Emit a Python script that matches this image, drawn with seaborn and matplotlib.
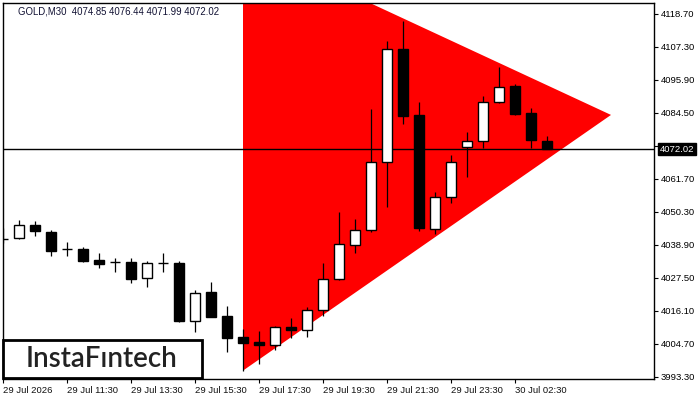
import matplotlib
matplotlib.use("Agg")
import matplotlib.pyplot as plt
import seaborn as sns
import numpy as np
import pandas as pd
from matplotlib.patches import Rectangle

# ---------------- data ----------------
opens = [4040.9, 4041.2, 4045.8, 4043.2, 4037.4, 4037.5, 4033.55, 4032.9, 4032.95, 4027.35,
         4032.6, 4032.6, 4012.7, 4022.6, 4014.3, 4007.0, 4005.2, 4004.4, 4010.4, 4009.4,
         4016.3, 4027.0, 4038.7, 4043.9, 4067.4, 4106.5, 4083.7, 4044.3, 4055.3, 4072.8,
         4074.7, 4088.2, 4093.8, 4084.4, 4074.85]
closes = [4041.0, 4045.8, 4043.5, 4036.9, 4037.3, 4033.4, 4032.2, 4032.8, 4027.2, 4032.5,
          4032.5, 4012.7, 4022.15, 4013.95, 4006.8, 4005.1, 4004.4, 4010.4, 4009.6, 4016.3,
          4027.0, 4039.1, 4043.9, 4067.4, 4106.5, 4083.5, 4044.6, 4055.3, 4067.4, 4074.7,
          4088.2, 4093.4, 4084.2, 4075.0, 4072.02]
highs = [4044.7, 4047.5, 4047.2, 4044.0, 4039.8, 4038.05, 4036.0, 4034.2, 4034.2, 4033.3,
         4036.0, 4033.3, 4023.3, 4026.2, 4017.75, 4009.8, 4009.1, 4010.9, 4013.6, 4017.3,
         4032.7, 4050.4, 4047.8, 4085.9, 4109.4, 4116.3, 4088.2, 4057.1, 4069.95, 4077.9,
         4090.4, 4100.4, 4094.5, 4086.3, 4076.44]
lows = [4039.5, 4040.8, 4042.1, 4035.1, 4035.1, 4033.1, 4031.0, 4029.6, 4025.6, 4024.4,
        4029.6, 4012.3, 4008.9, 4013.9, 4002.0, 3995.4, 3997.7, 4002.5, 4006.8, 4007.1,
        4014.3, 4026.8, 4036.0, 4043.4, 4051.9, 4080.6, 4043.8, 4042.5, 4053.5, 4062.5,
        4072.5, 4088.0, 4083.8, 4072.5, 4071.99]

# triangle pattern (bar index, price)
tri_x = [15, 38, 15]
tri_y = [4142.9, 4083.8, 3995.4]

current_price = 4072.02
y_ticks = [4118.70, 4107.30, 4095.90, 4084.50, 4073.10, 4061.70, 4050.30,
           4038.90, 4027.50, 4016.10, 4004.70, 3993.30]
x_tick_pos = [0, 4, 8, 12, 16, 20, 24, 28, 32]
x_tick_labels = ["29 Jul 2026", "29 Jul 11:30", "29 Jul 13:30", "29 Jul 15:30",
                 "29 Jul 17:30", "29 Jul 19:30", "29 Jul 21:30", "29 Jul 23:30",
                 "30 Jul 02:30"]
header = "GOLD,M30  4074.85 4076.44 4071.99 4072.02"

# ---------------- plot ----------------
sns.set_theme(style="white")
plt.rcParams["font.family"] = ["Liberation Sans", "DejaVu Sans"]

df = pd.DataFrame({"o": opens, "h": highs, "l": lows, "c": closes})
df["i"] = np.arange(len(df))
df["bull"] = df["c"] >= df["o"]

fig = plt.figure(figsize=(7, 4), dpi=100)
ax = fig.add_axes([3 / 700, 21 / 400, 651 / 700, 376 / 400])

# triangle
ax.fill(tri_x, tri_y, color="#FF0000", lw=0, zorder=1)

# current price line
sns.lineplot(x=[-1, 45], y=[current_price, current_price], ax=ax,
             color="black", lw=1.0, zorder=2)

# wicks
ax.vlines(df["i"], df["l"], df["h"], color="black", lw=0.9, zorder=3)
# bodies
bottoms = np.minimum(df["o"], df["c"])
heights = np.maximum(np.abs(df["c"] - df["o"]), 0.12)
colors = ["white" if b else "black" for b in df["bull"]]
ax.bar(df["i"], heights, bottom=bottoms, width=0.62, color=colors,
       edgecolor="black", linewidth=1.0, zorder=4)

ax.set_xlim(0, 651 / 16)
ax.set_ylim(3992.5, 4122.5)

for s in ax.spines.values():
    s.set_color("black")
    s.set_linewidth(1.0)
    s.set_visible(True)

ax.yaxis.tick_right()
ax.set_yticks(y_ticks)
ax.set_yticklabels([f"{v:.2f}" for v in y_ticks])
ax.set_xticks(x_tick_pos)
ax.set_xticklabels(x_tick_labels, ha="left")
ax.tick_params(axis="y", which="both", right=True, left=False, length=3, width=0.8,
               direction="out", labelsize=6.8, pad=2, colors="black")
ax.tick_params(axis="x", which="both", bottom=True, length=3, width=0.8,
               direction="out", labelsize=6.8, pad=2, colors="black")
for lab in ax.get_xticklabels():
    lab.set_color("#111111")
ax.set_xlabel("")
ax.set_ylabel("")
ax.grid(False)

# current price tag
ax.annotate(f"{current_price:.2f}", xy=(1.0, current_price),
            xycoords=("axes fraction", "data"), xytext=(4, 0),
            textcoords="offset points", ha="left", va="center",
            fontsize=6.8, color="white", zorder=10, annotation_clip=False,
            bbox=dict(boxstyle="square,pad=0.2", fc="black", ec="black"))

# header
fig.text(18 / 700, 1 - 11 / 400, header, fontsize=6.9, color="#111133",
         ha="left", va="center")

# logo box
fig.patches.append(Rectangle((3 / 700, 1 - 378 / 400), 199 / 700, 38 / 400,
                             transform=fig.transFigure, facecolor="white",
                             edgecolor="black", lw=2.0, zorder=20))
fig.text(102 / 700, 1 - 359 / 400, "InstaF\u0131ntech", fontsize=20,
         family=["Lato", "DejaVu Sans"], weight="semibold", color="#222222",
         ha="center", va="center", zorder=21)

fig.savefig("out.png", dpi=100)
